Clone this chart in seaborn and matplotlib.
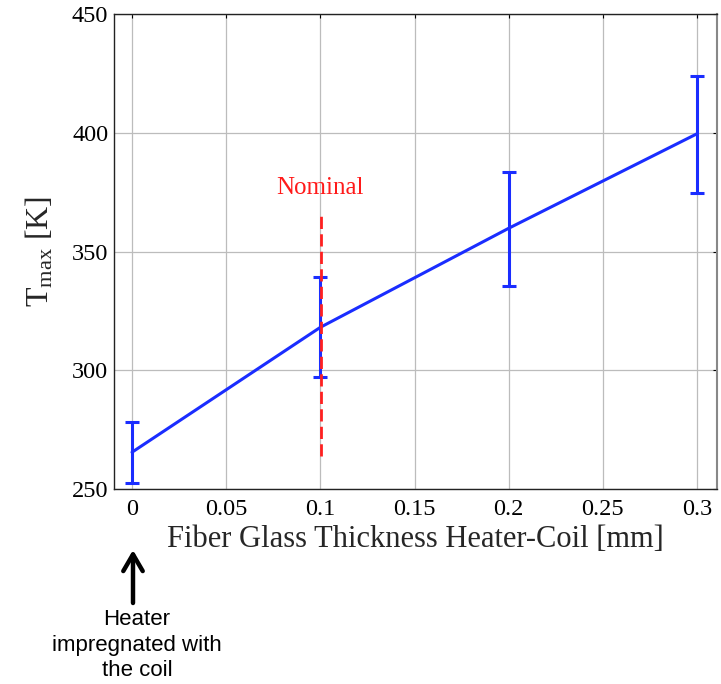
import matplotlib
matplotlib.use("Agg")
import matplotlib.pyplot as plt
from matplotlib.patches import FancyArrowPatch
import seaborn as sns
import pandas as pd

thickness = [0.0, 0.1, 0.2, 0.3]
tmax = [265.5, 318.1, 359.8, 399.6]
err_low = [252.5, 297.1, 335.3, 374.8]
err_high = [278.2, 339.1, 383.6, 424.0]
x_ticks = [0, 0.05, 0.1, 0.15, 0.2, 0.25, 0.3]
x_tick_labels = ["0", "0.05", "0.1", "0.15", "0.2", "0.25", "0.3"]
y_ticks = [250, 300, 350, 400, 450]
nominal_x = 0.1
nominal_range = [264.0, 366.8]

sns.set_style("white")
plt.rcParams['font.family'] = ['Liberation Serif', 'DejaVu Serif']
plt.rcParams['mathtext.fontset'] = 'custom'
plt.rcParams['mathtext.rm'] = 'Liberation Serif'
plt.rcParams['mathtext.it'] = 'Liberation Serif:italic'

df = pd.DataFrame({"thickness": thickness, "tmax": tmax})

fig = plt.figure(figsize=(7.21, 6.84), dpi=100)
ax = fig.add_axes([0.158, 0.285, 0.8365, 0.6945])

blue = "#1a2dff"
sns.lineplot(data=df, x="thickness", y="tmax", ax=ax, color=blue, linewidth=2.2, zorder=3)
yerr = [[t - l for t, l in zip(tmax, err_low)], [h - t for t, h in zip(tmax, err_high)]]
ax.errorbar(thickness, tmax, yerr=yerr, fmt="none", ecolor=blue, elinewidth=2.2,
            capsize=4.8, capthick=2.2, zorder=4)

ax.plot([nominal_x + 0.0006] * 2, nominal_range, color="#ff2020", linestyle=(0, (4.4, 1.9)),
        linewidth=2.0, zorder=5)
ax.text(nominal_x, 372, "Nominal", color="#ff1a1a", fontsize=18, ha="center", va="bottom")

ax.set_xlim(-0.0096, 0.3106)
ax.set_ylim(250, 450)
ax.set_xticks(x_ticks)
ax.set_xticklabels(x_tick_labels)
ax.set_yticks(y_ticks)
ax.grid(True, color="#bcbcbc", linewidth=0.9)
ax.set_axisbelow(True)
ax.tick_params(axis="both", direction="in", length=3, width=0.8, labelsize=17.5,
               top=True, right=True, colors="black")
ax.tick_params(axis="x", pad=7)
ax.tick_params(axis="y", pad=4)
for s in ax.spines.values():
    s.set_color("#222222")
    s.set_linewidth(1.0)
ax.spines["right"].set_color("#888888")
ax.spines["right"].set_linewidth(1.5)

ax.set_xlabel("Fiber Glass Thickness Heater-Coil [mm]", fontsize=22, labelpad=4)
ax.set_ylabel(r"T$_{\rm max}$ [K]", fontsize=23, labelpad=12)

fig.text(137 / 721, 1 - 645 / 684, "Heater\nimpregnated with\nthe coil", ha="center", va="center",
         fontsize=16, color="black", family=["Liberation Sans", "DejaVu Sans"], linespacing=1.26)
fig.add_artist(FancyArrowPatch(
    (133 / 721, 1 - 603 / 684), (133 / 721, 1 - 550 / 684), transform=fig.transFigure,
    arrowstyle="->,head_length=0.6,head_width=0.35", color="black", linewidth=3.2,
    mutation_scale=20, shrinkA=0, shrinkB=0))

fig.savefig("out.png", dpi=100)
